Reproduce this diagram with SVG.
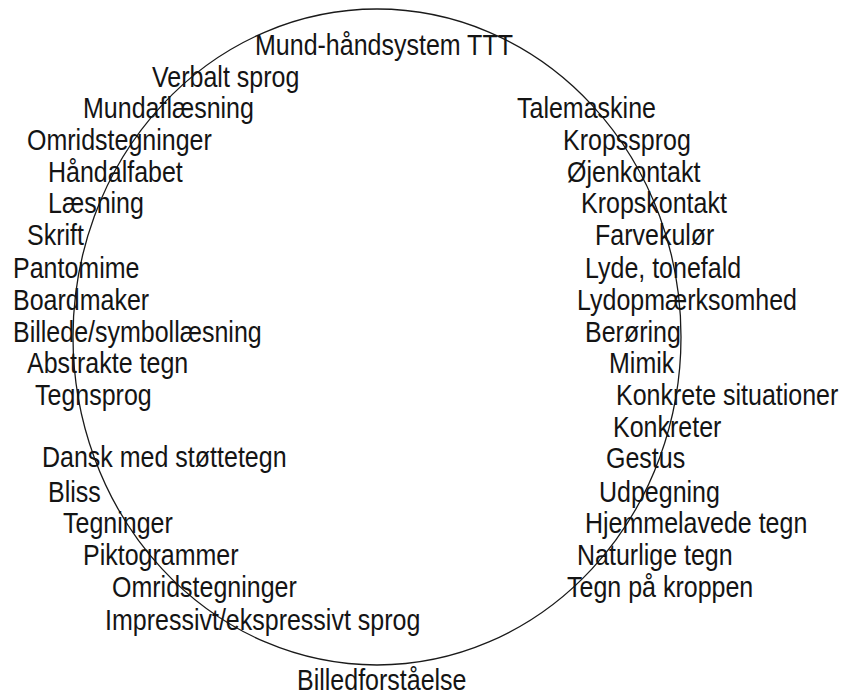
<svg xmlns="http://www.w3.org/2000/svg" width="841" height="698" viewBox="0 0 841 698">
<style>
  text { font-family: "Liberation Sans", Arial, sans-serif; font-size: 25px; fill: #141414; }
  .ring { fill: none; stroke: #1a1a1a; stroke-width: 1.3; }
</style>
<rect width="841" height="698" fill="#ffffff"/>
<g id="connectors">
  <ellipse class="ring" cx="377" cy="337" rx="304" ry="328"/>
</g>
<g id="left">
  <g id="n-mund"><text transform="translate(255 55) scale(1 1.15)">Mund-håndsystem TTT</text></g>
  <g id="n-verbalt"><text transform="translate(152 87) scale(1 1.15)">Verbalt sprog</text></g>
  <g id="n-mundafl"><text transform="translate(83 118) scale(1 1.15)">Mundaflæsning</text></g>
  <g id="n-omrids1"><text transform="translate(27 150) scale(1 1.15)">Omridstegninger</text></g>
  <g id="n-haandalf"><text transform="translate(48 182) scale(1 1.15)">Håndalfabet</text></g>
  <g id="n-laesning"><text transform="translate(48 213) scale(1 1.15)">Læsning</text></g>
  <g id="n-skrift"><text transform="translate(27 245) scale(1 1.15)">Skrift</text></g>
  <g id="n-pantomime"><text transform="translate(13 278) scale(1 1.15)">Pantomime</text></g>
  <g id="n-boardmaker"><text transform="translate(13 310) scale(1 1.15)">Boardmaker</text></g>
  <g id="n-billede"><text transform="translate(13 342) scale(1 1.15)">Billede/symbollæsning</text></g>
  <g id="n-abstrakte"><text transform="translate(27 373) scale(1 1.15)">Abstrakte tegn</text></g>
  <g id="n-tegnsprog"><text transform="translate(35 405) scale(1 1.15)">Tegnsprog</text></g>
  <g id="n-dansk"><text transform="translate(42 467) scale(1 1.15)">Dansk med støttetegn</text></g>
  <g id="n-bliss"><text transform="translate(48 502) scale(1 1.15)">Bliss</text></g>
  <g id="n-tegninger"><text transform="translate(63 533) scale(1 1.15)">Tegninger</text></g>
  <g id="n-pikto"><text transform="translate(83 565) scale(1 1.15)">Piktogrammer</text></g>
  <g id="n-omrids2"><text transform="translate(112 597) scale(1 1.15)">Omridstegninger</text></g>
  <g id="n-impressivt"><text transform="translate(105 630) scale(1 1.15)">Impressivt/ekspressivt sprog</text></g>
  <g id="n-billedforst"><text transform="translate(297 690) scale(1 1.15)">Billedforståelse</text></g>
</g>
<g id="right">
  <g id="n-talemaskine"><text transform="translate(517 118) scale(1 1.15)">Talemaskine</text></g>
  <g id="n-kropssprog"><text transform="translate(563 150) scale(1 1.15)">Kropssprog</text></g>
  <g id="n-ojenkontakt"><text transform="translate(567 182) scale(1 1.15)">Øjenkontakt</text></g>
  <g id="n-kropskontakt"><text transform="translate(581 213) scale(1 1.15)">Kropskontakt</text></g>
  <g id="n-farvekulor"><text transform="translate(595 245) scale(1 1.15)">Farvekulør</text></g>
  <g id="n-lyde"><text transform="translate(585 278) scale(1 1.15)">Lyde, tonefald</text></g>
  <g id="n-lydopm"><text transform="translate(577 310) scale(1 1.15)">Lydopmærksomhed</text></g>
  <g id="n-beroring"><text transform="translate(585 342) scale(1 1.15)">Berøring</text></g>
  <g id="n-mimik"><text transform="translate(609 373) scale(1 1.15)">Mimik</text></g>
  <g id="n-konkrsit"><text transform="translate(616 405) scale(1 1.15)">Konkrete situationer</text></g>
  <g id="n-konkreter"><text transform="translate(613 437) scale(1 1.15)">Konkreter</text></g>
  <g id="n-gestus"><text transform="translate(606 468) scale(1 1.15)">Gestus</text></g>
  <g id="n-udpegning"><text transform="translate(599 502) scale(1 1.15)">Udpegning</text></g>
  <g id="n-hjemmel"><text transform="translate(585 533) scale(1 1.15)">Hjemmelavede tegn</text></g>
  <g id="n-naturlige"><text transform="translate(577 565) scale(1 1.15)">Naturlige tegn</text></g>
  <g id="n-tegnpaa"><text transform="translate(567 597) scale(1 1.15)">Tegn på kroppen</text></g>
</g>
</svg>
